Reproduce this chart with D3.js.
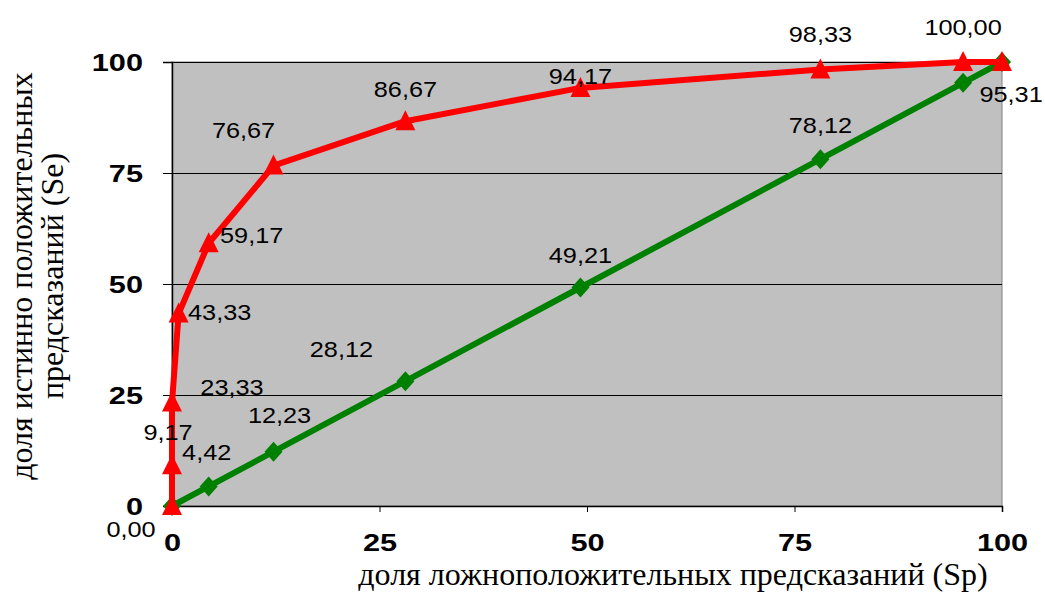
<!DOCTYPE html>
<html>
<head>
<meta charset="utf-8">
<script src="https://cdn.jsdelivr.net/npm/d3@7"></script>
<style>
  body { margin: 0; background: #fff; }
  svg { display: block; }
</style>
</head>
<body>
<svg id="chart" width="1045" height="592"></svg>
<script>
// доля ложноположительных (Sp) / доля истинно положительных (Se)
const fpr = [0, 0, 0, 0.8, 4.42, 12.23, 28.12, 49.21, 78.12, 95.31, 100];
const tpr = [0, 9.17, 23.33, 43.33, 59.17, 76.67, 86.67, 94.17, 98.33, 100, 100];
const tprLabels = ['', '9,17', '23,33', '43,33', '59,17', '76,67', '86,67', '94,17', '98,33', '100,00', ''];

const diag = [0, 4.42, 12.23, 28.12, 49.21, 78.12, 95.31, 100];
const diagLabels = ['0,00', '4,42', '12,23', '28,12', '49,21', '78,12', '95,31', ''];

const ticks = [0, 25, 50, 75, 100];

// label offsets (px) relative to point
const redOff = [[0, 0], [-4, -25], [60, -7], [41, 6], [43, 0], [-30, -28], [0, -24], [0, -4], [0, -27], [0, -27], [0, 0]];
const greenOff = [[-41, 31], [-2, -26], [6, -29], [-64, -24], [0, -25], [0, -26], [48, 19], [0, 0]];

let svg = d3.select('#chart');

let plot = { left: 172, right: 1002, top: 62, bottom: 506 };

let x = d3.scaleLinear().domain([0, 100]).range([plot.left, plot.right]);
let y = d3.scaleLinear().domain([0, 100]).range([plot.bottom, plot.top]);

// the reference text looks horizontally stretched
let stretch = (sel, sx) => {
  sel.each(function () {
    let t = d3.select(this);
    let tx = +t.attr('x') || 0, ty = +t.attr('y') || 0;
    t.attr('x', 0).attr('y', 0)
      .attr('transform', `translate(${tx},${ty}) scale(${sx},1)`);
  });
};

// background
svg.append('rect')
  .attr('x', plot.left).attr('y', plot.top)
  .attr('width', plot.right - plot.left).attr('height', plot.bottom - plot.top)
  .attr('fill', '#c0c0c0')
  .attr('stroke', '#808080')
  .attr('stroke-width', 1);

// gridlines
svg.selectAll('.grid')
  .data(ticks.slice(1))
  .enter()
  .append('line')
  .attr('class', 'grid')
  .attr('x1', plot.left).attr('x2', plot.right)
  .attr('y1', d => y(d) + 0.5).attr('y2', d => y(d) + 0.5)
  .attr('stroke', '#000')
  .attr('stroke-width', 1);

// axes
let yAxis = d3.axisLeft(y).tickValues(ticks).tickSize(9).tickPadding(20).tickFormat(d3.format('d'));
let xAxis = d3.axisBottom(x).tickValues(ticks).tickSize(6).tickPadding(22).tickFormat(d3.format('d'));

let gy = svg.append('g').attr('transform', `translate(${plot.left},0)`).call(yAxis);
let gx = svg.append('g').attr('transform', `translate(0,${plot.bottom})`).call(xAxis);

[gy, gx].forEach(g => {
  g.select('.domain').attr('stroke', '#000').attr('stroke-width', 1.5);
  g.selectAll('.tick line').attr('stroke', '#000');
  g.selectAll('.tick text')
    .attr('fill', '#000')
    .style('font-family', 'Liberation Sans, Arial, sans-serif')
    .style('font-weight', 'bold')
    .style('font-size', '24px');
  stretch(g.selectAll('.tick text'), 1.28);
});
gy.selectAll('.tick text').attr('dy', '0.34em');

// lines
let line = d3.line().x(d => x(d[0])).y(d => y(d[1]));

let greenPts = diag.map(v => [v, v]);
let redPts = fpr.map((v, i) => [v, tpr[i]]);

svg.append('path')
  .datum(greenPts)
  .attr('fill', 'none')
  .attr('stroke', '#008000')
  .attr('stroke-width', 6)
  .attr('d', line);

svg.selectAll('.diamond')
  .data(greenPts)
  .enter()
  .append('path')
  .attr('class', 'diamond')
  .attr('transform', d => `translate(${x(d[0])},${y(d[1])})`)
  .attr('d', 'M0,-10L9,0L0,10L-9,0Z')
  .attr('fill', '#008000');

svg.append('path')
  .datum(redPts)
  .attr('fill', 'none')
  .attr('stroke', '#ff0000')
  .attr('stroke-width', 6)
  .attr('stroke-linejoin', 'round')
  .attr('d', line);

svg.selectAll('.tri')
  .data(redPts)
  .enter()
  .append('path')
  .attr('class', 'tri')
  .attr('transform', d => `translate(${x(d[0])},${y(d[1])})`)
  .attr('d', 'M0,-11L10,9L-10,9Z')
  .attr('fill', '#ff0000');

// data labels
let labelFont = 'Liberation Sans, Arial, sans-serif';

let gl = svg.selectAll('.glabel')
  .data(greenPts)
  .enter()
  .append('text')
  .attr('class', 'glabel')
  .attr('x', (d, i) => x(d[0]) + greenOff[i][0])
  .attr('y', (d, i) => y(d[1]) + greenOff[i][1])
  .attr('text-anchor', 'middle')
  .style('font-family', labelFont)
  .style('font-size', '22px')
  .text((d, i) => diagLabels[i]);
stretch(gl, 1.15);

let rl = svg.selectAll('.rlabel')
  .data(redPts)
  .enter()
  .append('text')
  .attr('class', 'rlabel')
  .attr('x', (d, i) => x(d[0]) + redOff[i][0])
  .attr('y', (d, i) => y(d[1]) + redOff[i][1])
  .attr('text-anchor', 'middle')
  .style('font-family', labelFont)
  .style('font-size', '22px')
  .text((d, i) => tprLabels[i]);
stretch(rl, 1.15);

// axis titles
let titleFont = 'Liberation Serif, Times New Roman, serif';

svg.append('text')
  .attr('x', 673)
  .attr('y', 585)
  .attr('text-anchor', 'middle')
  .style('font-family', titleFont)
  .style('font-size', '32px')
  .text('доля ложноположительных предсказаний (Sp)');

let yt = svg.append('text')
  .attr('transform', 'translate(0,276) rotate(-90)')
  .attr('text-anchor', 'middle')
  .style('font-family', titleFont)
  .style('font-size', '32px');
yt.append('tspan').attr('x', 0).attr('y', 32).text('доля истинно положительных');
yt.append('tspan').attr('x', 0).attr('y', 63).text('предсказаний (Se)');
</script>
</body>
</html>
